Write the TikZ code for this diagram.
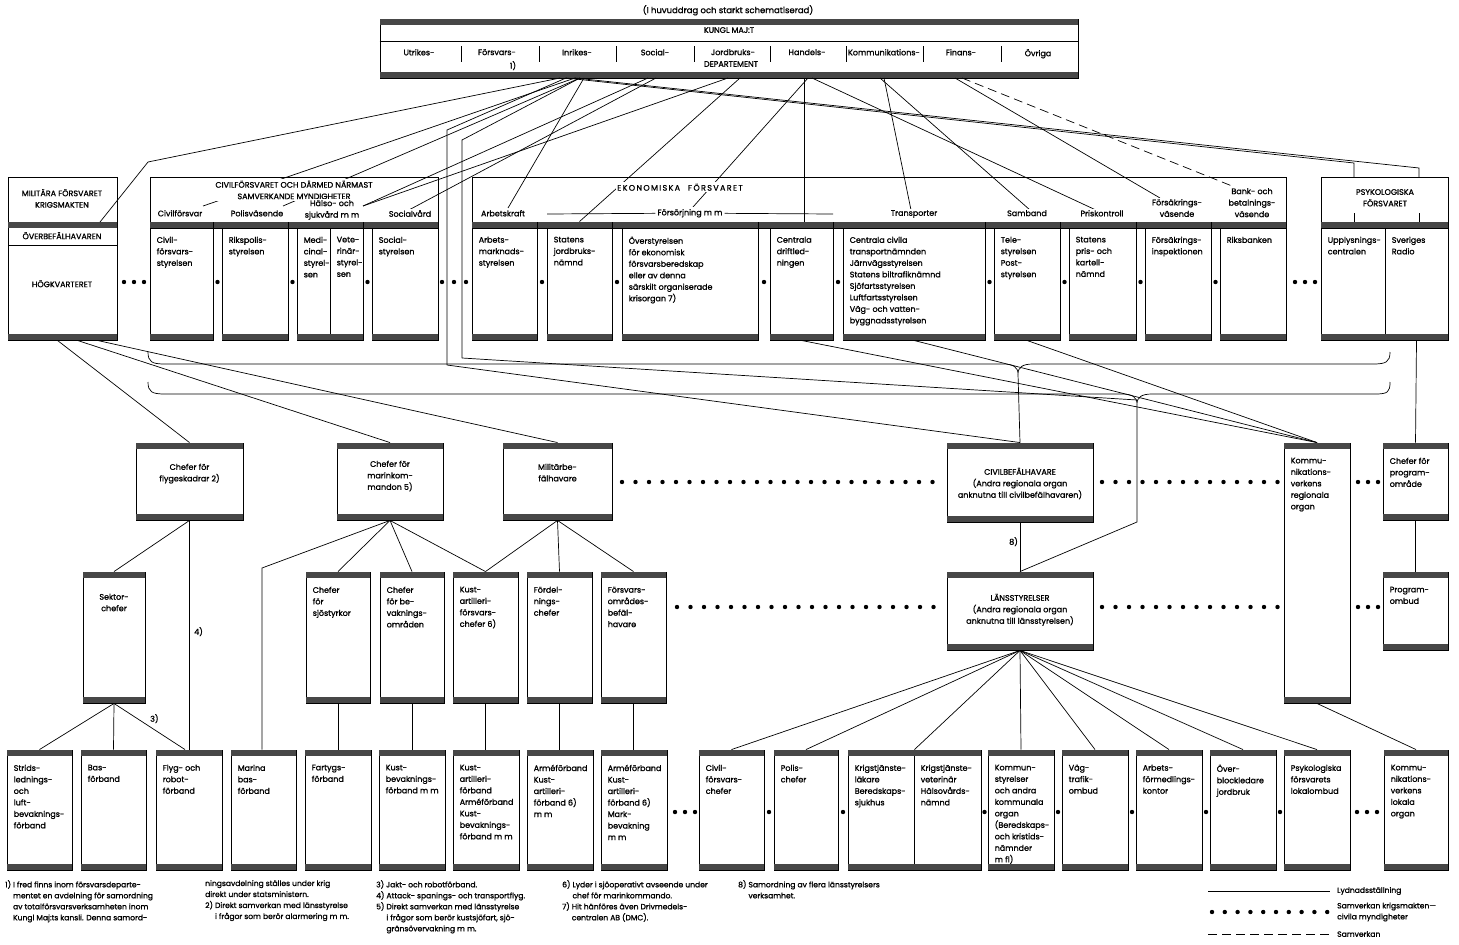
\documentclass[tikz,border=0pt]{standalone}
\usepackage{fontspec}
\setmainfont{Poppins}[FakeBold=1.2]
\usetikzlibrary{fit}
\begin{document}
\begin{tikzpicture}[x=1pt,y=-1pt]
\tikzset{
 band/.style={fill=black!72},
 t/.style={font=\fontsize{8}{11.5}\selectfont, align=left, inner sep=0, anchor=north west},
 tc/.style={t, align=center, anchor=north},
 ln/.style={line width=0.7pt},
 dotline/.style={line width=4.4pt, line cap=round, dash pattern=on 0pt off 13.5pt},
 foot/.style={font=\fontsize{7.6}{11}\selectfont, align=left, inner sep=0, anchor=north west},
}
\newcommand\mybox[6]{%
 \node[fit={(#2,#3) (#4,#5)}, inner sep=0, draw, line width=0.9pt] (#1) {};
 \fill[band] (#1.north west) rectangle ([yshift=-6pt]#1.north east);
 \fill[band] ([yshift=6pt]#1.south west) rectangle (#1.south east);
 \node[t] (#1-t) at ([xshift=7pt,yshift=-15pt]#1.north west) {#6};
}
\newcommand\myboxc[7]{%
 \node[fit={(#2,#3) (#4,#5)}, inner sep=0, draw, line width=0.9pt] (#1) {};
 \fill[band] (#1.north west) rectangle ([yshift=-6pt]#1.north east);
 \fill[band] ([yshift=6pt]#1.south west) rectangle (#1.south east);
 \node[tc] (#1-t) at ([yshift=-#6pt]#1.north) {#7};
}
\newcommand\gdot[2]{\fill (#1,#2) circle (2.2pt);}
\useasboundingbox (0,0) rectangle (1459,945);
\fill[white] (0,0) rectangle (1459,945);

% ---------- top ----------
\node[tc, font=\fontsize{8.5}{11}\selectfont] (title) at (728,5) {(I huvuddrag och starkt schematiserad)};
\node[fit={(380,19) (1078,78)}, inner sep=0, draw, line width=0.9pt] (km) {};
\fill[band] (km.north west) rectangle ([yshift=-6pt]km.north east);
\fill[band] ([yshift=6pt]km.south west) rectangle (km.south east);
\draw[line width=0.7pt] (km.west |- 0,41) -- (km.east |- 0,41);
\node[tc] (kmt) at (729,27) {KUNGL MAJ:T};
\foreach \x in {461,539,616,694,770,846,923,1001} \draw[line width=0.8pt] (\x,46) -- (\x,62);
\node[tc] (dUtr) at (419,49) {Utrikes-};
\node[tc] (dFor) at (497,49) {Försvars-};
\node[tc] (dFor1) at (513,61) {1)};
\node[tc] (dInr) at (577,49) {Inrikes-};
\node[tc] (dSoc) at (655,49) {Social-};
\node[tc] (dJor) at (733,49) {Jordbruks-};
\node[tc] (dDep) at (731,61) {DEPARTEMENT};
\node[tc] (dHan) at (807,49) {Handels-};
\node[tc] (dKom) at (884,49) {Kommunikations-};
\node[tc] (dFin) at (961,49) {Finans-};
\node[tc] (dOvr) at (1038,49) {Övriga};

% ---------- row 2 : militära ----------
\node[fit={(8,177) (117,340)}, inner sep=0, draw, line width=0.9pt] (mil) {};
\fill[band] (8,222) rectangle (117,228);
\fill[band] (8,334) rectangle (117,340);
\draw[line width=0.7pt] (8,245) -- (117,245);
\node[tc] (milt) at (62,189) {MILITÄRA FÖRSVARET\\KRIGSMAKTEN};
\node[tc] (obh) at (62,232) {ÖVERBEFÄLHAVAREN};
\node[tc] (hkv) at (62,280) {HÖGKVARTERET};

% ---------- civilförsvaret group ----------
\node[fit={(150,177) (438,228)}, inner sep=0, draw, line width=0.9pt] (civ) {};
\fill[band] (150,222) rectangle (438,228);
\mybox{cfs}{150}{222}{213}{340}{Civil-\\försvars-\\styrelsen}
\mybox{rps}{222}{222}{288}{340}{Rikspolis-\\styrelsen}
\mybox{med}{297}{222}{330}{340}{Medi-\\cinal-\\styrel-\\sen}
\mybox{vet}{330}{222}{363}{340}{Vete-\\rinär-\\styrel-\\sen}
\mybox{soc}{372}{222}{438}{340}{Social-\\styrelsen}
\gdot{217.5}{282}\gdot{292.5}{282}\gdot{367.5}{282}
\gdot{442}{282}\gdot{454}{282}\gdot{466}{282}
\gdot{124}{282}\gdot{134}{282}\gdot{144}{282}

% ---------- ekonomiska group ----------
\node[fit={(472,177) (1286,228)}, inner sep=0, draw, line width=0.9pt] (ek) {};
\fill[band] (472,222) rectangle (1286,228);
\mybox{ams}{472}{222}{537}{340}{Arbets-\\marknads-\\styrelsen}
\mybox{sjn}{547}{222}{612}{340}{Statens\\jordbruks-\\nämnd}
\mybox{oef}{622}{222}{758}{340}{Överstyrelsen\\för ekonomisk\\försvarsberedskap\\eller av denna\\särskilt organiserade\\krisorgan 7)}
\mybox{cdl}{770}{222}{833}{340}{Centrala\\driftled-\\ningen}
\mybox{tra}{843}{222}{985}{340}{Centrala civila\\transportnämnden\\Järnvägsstyrelsen\\Statens biltrafiknämnd\\Sjöfartsstyrelsen\\Luftfartsstyrelsen\\Väg- och vatten-\\byggnadsstyrelsen}
\mybox{sam}{994}{222}{1060}{340}{Tele-\\styrelsen\\Post-\\styrelsen}
\mybox{pri}{1069}{222}{1136}{340}{Statens\\pris- och\\kartell-\\nämnd}
\mybox{fsi}{1145}{222}{1211}{340}{Försäkrings-\\inspektionen}
\mybox{rb}{1220}{222}{1286}{340}{Riksbanken}
\gdot{542}{282}\gdot{617}{282}\gdot{764}{282}\gdot{838}{282}\gdot{989.5}{282}\gdot{1064.5}{282}\gdot{1140.5}{282}\gdot{1215.5}{282}
\gdot{1295}{282}\gdot{1305}{282}\gdot{1315}{282}

% ---------- psykologiska ----------
\node[fit={(1321,177) (1448,228)}, inner sep=0, draw, line width=0.9pt] (ps) {};
\fill[band] (1321,222) rectangle (1448,228);
\mybox{upc}{1321}{222}{1385}{340}{Upplysnings-\\centralen}
\mybox{sr}{1385}{222}{1448}{340}{Sveriges\\Radio}
\node[tc] (pst) at (1385,189) {PSYKOLOGISKA\\FÖRSVARET};
\draw[ln] (1354,213) -- (1354,222);
\draw[ln] (1419,213) -- (1419,222);

% ---------- connectors top -> row 2 ----------
\coordinate (pF1) at (560,78);
\coordinate (pF2) at (566,78);
\coordinate (pI1) at (575,78);
\coordinate (pI2) at (580,78);
\coordinate (pI3) at (584,78);
\coordinate (pS1) at (648,78);
\coordinate (pS2) at (656,78);
\coordinate (pJ1) at (740,78);
\coordinate (pJ2) at (728,78);
\coordinate (pH1) at (804,78);
\coordinate (pH2) at (808,78);
\coordinate (pH3) at (812,78);
\coordinate (pK1) at (884,78);
\coordinate (pK2) at (880,78);
\coordinate (pN1) at (955,78);
\coordinate (pN2) at (962,78);
\coordinate (aMil) at (100,222);
\coordinate (bMil) at (148,162);
\draw[ln] (pF1) -- (bMil) -- (aMil);
\coordinate (aCf) at (203,206);
\coordinate (aPv) at (283,206);
\coordinate (aHs) at (363,206);
\coordinate (aSv) at (407,211);
\draw[ln] (pI1) -- (aCf);
\draw[ln] (pI2) -- (aPv);
\draw[ln] (pS1) -- (aHs);
\draw[ln] (pJ2) -- (aHs);
\draw[ln] (pS2) -- (aSv);
\coordinate (aAk) at (508,208);
\draw[ln] (pI3) -- (aAk);
\draw[ln] (pJ1) -- (sjn.north);
\coordinate (aFs) at (693,207);
\draw[ln] (pH2) -- (aFs);
\draw[ln] (pH1) -- (pH1 |- cdl.north);
\coordinate (aPk) at (1098,211);
\draw[ln] (pH3) -- (aPk);
\coordinate (aTr) at (911,210);
\draw[ln] (pK1) -- (aTr);
\coordinate (aSb) at (1030,210);
\draw[ln] (pK2) -- (aSb);
\coordinate (aFk) at (1160,198);
\draw[ln] (pN1) -- (aFk);
\coordinate (aBk) at (1232,186);
\draw[ln, dash pattern=on 9pt off 5pt] (pN2) -- (aBk);
\coordinate (aPs1) at (1354,177);
\coordinate (aPs2) at (1419,177);
\draw[ln] (pF2) -- (1354,163) -- (aPs1);
\draw[ln] (pI1) -- (1419,168) -- (aPs2);
% long verticals to regional level
\coordinate (vA) at (447,130);
\coordinate (vA2) at (447,365);
\coordinate (vB) at (462,140);
\coordinate (vB2) at (462,358);
\coordinate (kB) at (1137,400);
\coordinate (kB2) at (1137,522);
\draw[ln] (pF2) -- (vA) -- (vA2);
\draw[ln] (pI2) -- (vB) -- (vB2);

% titles with white backgrounds (over lines)
\node[tc, fill=white, inner sep=1.5pt] (civt) at (294,179) {CIVILFÖRSVARET OCH DÄRMED NÄRMAST\\SAMVERKANDE MYNDIGHETER};
\node[tc, fill=white, inner sep=1.5pt, font=\fontsize{8}{11}\selectfont] (ekt) at (680,182) {E\,K\,O\,N\,O\,M\,I\,S\,K\,A\quad F\,Ö\,R\,S\,V\,A\,R\,E\,T};
\node[tc, fill=white, inner sep=1pt] (lCf) at (180,209) {Civilförsvar};
\node[tc, fill=white, inner sep=1pt] (lPv) at (257,209) {Polisväsende};
\node[tc, fill=white, inner sep=1pt] (lHs) at (332,199) {Hälso- och\\sjukvård m m};
\node[tc, fill=white, inner sep=1pt] (lSv) at (410,209) {Socialvård};
\node[tc, fill=white, inner sep=1pt] (lAk) at (503,209) {Arbetskraft};
\node[tc, fill=white, inner sep=2pt] (lFs) at (690,207) {Försörjning m m};
\draw[ln] (547,214) -- (lFs.west);
\draw[ln] (lFs.east) -- (833,214);
\node[tc, fill=white, inner sep=1pt] (lTr) at (914,209) {Transporter};
\node[tc, fill=white, inner sep=1pt] (lSb) at (1027,209) {Samband};
\node[tc, fill=white, inner sep=1pt] (lPk) at (1102,209) {Priskontroll};
\node[tc, fill=white, inner sep=1pt] (lFk) at (1177,198) {Försäkrings-\\väsende};
\node[tc, fill=white, inner sep=1pt] (lBk) at (1252,187) {Bank- och\\betalnings-\\väsende};

% ---------- row 3 ----------
\myboxc{cfl}{136}{443}{243}{520}{21}{Chefer för\\flygeskadrar 2)}
\myboxc{cmk}{337}{443}{443}{520}{18}{Chefer för\\marinkom-\\mandon 5)}
\myboxc{mbh}{503}{443}{612}{520}{21}{Militärbe-\\fälhavare}
\myboxc{cbh}{947}{443}{1093}{522}{25}{CIVILBEFÄLHAVARE\\(Andra regionala organ\\anknutna till civilbefälhavaren)}
\mybox{kvr}{1284}{443}{1350}{703}{Kommu-\\nikations-\\verkens\\regionala\\organ}
\mybox{cpo}{1383}{443}{1448}{520}{Chefer för\\program-\\område}
\draw[dotline] (622,482) -- (942,482);
\draw[dotline] (1102,482) -- (1280,482);
\gdot{1358}{482}\gdot{1368}{482}\gdot{1378}{482}

% ---------- row 4 ----------
\myboxc{sek}{83}{572}{145}{703}{22}{Sektor-\\chefer}
\mybox{cfs2}{306}{572}{370}{703}{Chefer\\för\\sjöstyrkor}
\mybox{cfb}{380}{572}{444}{703}{Chefer\\för be-\\vaknings-\\områden}
\mybox{kaf}{453}{572}{518}{703}{Kust-\\artilleri-\\försvars-\\chefer 6)}
\mybox{fdc}{527}{572}{592}{703}{Fördel-\\nings-\\chefer}
\mybox{fob}{601}{572}{666}{703}{Försvars-\\områdes-\\befäl-\\havare}
\myboxc{lst}{947}{572}{1093}{650}{22}{LÄNSSTYRELSER\\(Andra regionala organ\\anknutna till länsstyrelsen)}
\mybox{pom}{1383}{572}{1448}{650}{Program-\\ombud}
\draw[dotline] (677,607) -- (942,607);
\draw[dotline] (1102,607) -- (1280,607);
\gdot{1358}{607}\gdot{1368}{607}\gdot{1378}{607}

% ---------- row 5 ----------
\mybox{e1}{7}{750}{72}{870}{Strids-\\lednings-\\och\\luft-\\bevaknings-\\förband}
\mybox{e2}{81}{750}{146}{870}{Bas-\\förband}
\mybox{e3}{156}{750}{222}{870}{Flyg- och\\robot-\\förband}
\mybox{e4}{231}{750}{296}{870}{Marina\\bas-\\förband}
\mybox{e5}{305}{750}{371}{870}{Fartygs-\\förband}
\mybox{e6}{379}{750}{445}{870}{Kust-\\bevaknings-\\förband m m}
\mybox{e7}{453}{750}{519}{870}{Kust-\\artilleri-\\förband\\Arméförband\\Kust-\\bevaknings-\\förband m m}
\mybox{e8}{527}{750}{593}{870}{Arméförband\\Kust-\\artilleri-\\förband 6)\\m m}
\mybox{e9}{601}{750}{667}{870}{Arméförband\\Kust-\\artilleri-\\förband 6)\\Mark-\\bevakning\\m m}
\gdot{675}{812}\gdot{685}{812}\gdot{695}{812}
\mybox{f1}{699}{750}{764}{870}{Civil-\\försvars-\\chefer}
\mybox{f2}{774}{750}{838}{870}{Polis-\\chefer}
\mybox{f3}{848}{750}{914}{870}{Krigstjänste-\\läkare\\Beredskaps-\\sjukhus}
\mybox{f3b}{914}{750}{981}{870}{Krigstjänste-\\veterinär\\Hälsovårds-\\nämnd}
\mybox{f4}{988}{750}{1054}{870}{Kommun-\\styrelser\\och andra\\kommunala\\organ\\(Beredskaps-\\och kristids-\\nämnder\\m fl)}
\mybox{f5}{1062}{750}{1128}{870}{Väg-\\trafik-\\ombud}
\mybox{f6}{1136}{750}{1202}{870}{Arbets-\\förmedlings-\\kontor}
\mybox{f7}{1210}{750}{1276}{870}{Över-\\blockledare\\jordbruk}
\mybox{f8}{1284}{750}{1350}{870}{Psykologiska\\försvarets\\lokalombud}
\mybox{f9}{1384}{750}{1448}{870}{Kommu-\\nikations-\\verkens\\lokala\\organ}
\gdot{769}{812}\gdot{843}{812}\gdot{984.5}{812}\gdot{1058}{812}\gdot{1132}{812}\gdot{1206}{812}\gdot{1280}{812}
\gdot{1357}{812}\gdot{1367}{812}\gdot{1377}{812}

% ---------- middle connectors ----------
\draw[ln] ([xshift=-5pt]mil.south) -- (cfl.north);
\draw[ln] ([xshift=15pt]mil.south) -- (cmk.north);
\draw[ln] ([xshift=35pt]mil.south) -- (mbh.north);
% braces (under the central agencies)
\draw[ln] (148,352) .. controls (148,362) and (152,364) .. (165,364) -- (1003,364) .. controls (1013,364) and (1018,367) .. (1018,374) .. controls (1018,367) and (1023,364) .. (1033,364) -- (1373,364) .. controls (1386,364) and (1390,362) .. (1390,352);
\draw[ln] (148,382) .. controls (148,392) and (152,394) .. (165,394) -- (1122,394) .. controls (1132,394) and (1137,397) .. (1137,404) .. controls (1137,397) and (1142,394) .. (1152,394) -- (1375,394) .. controls (1388,394) and (1390,392) .. (1390,382);
\coordinate (tipU) at (1018,374);
\coordinate (tipL) at (1137,404);
\draw[ln] (tipU) -- (cbh.north);
\draw[ln] (vA2) -- (cbh.north);
\draw[ln] (tipL) -- (kB2) -- (lst.north);
\draw[ln] (vB2) -- (kB);
\draw[ln] (cdl.south) -- (kvr.north);
\draw[ln] (tra.south) -- (kvr.north);
\draw[ln] (sam.south) -- (kvr.north);
\draw[ln] (sr.south) -- (cpo.north);

% ---------- lower connectors ----------
\draw[ln] (cfl.south) -- (sek.north);
\draw[ln] (cfl.south) -- (cfl.south |- e3.north);
\node[t] (n4) at (194,627) {4)};
\draw[ln] (sek.south) -- (e1.north);
\draw[ln] (sek.south) -- (e2.north);
\draw[ln] (sek.south) -- ([xshift=-4pt]e3.north);
\node[t] (n3) at (150,714) {3)};
\coordinate (mbk) at (262,568);
\draw[ln] (cmk.south) -- (mbk) -- (mbk |- e4.north);
\draw[ln] (cmk.south) -- (cfs2.north);
\draw[ln] (cmk.south) -- (cfb.north);
\draw[ln] (cmk.south) -- (kaf.north);
\draw[ln] (mbh.south) -- (kaf.north);
\draw[ln] (mbh.south) -- (fdc.north);
\draw[ln] (mbh.south) -- (fob.north);
\draw[ln] (cfs2.south) -- (cfs2.south |- e5.north);
\draw[ln] (cfb.south) -- (cfb.south |- e6.north);
\draw[ln] (kaf.south) -- (kaf.south |- e7.north);
\draw[ln] (fdc.south) -- (fdc.south |- e8.north);
\draw[ln] (fob.south) -- (fob.south |- e9.north);
\draw[ln] (cbh.south) -- (lst.north);
\node[t] (n8) at (1009,537) {8)};
\draw[ln] (lst.south) -- (f1.north);
\draw[ln] (lst.south) -- (f2.north);
\draw[ln] (lst.south) -- (f3.north east);
\draw[ln] (lst.south) -- (f4.north);
\draw[ln] (lst.south) -- (f5.north);
\draw[ln] (lst.south) -- (f6.north);
\draw[ln] (lst.south) -- (f7.north);
\draw[ln] (lst.south) -- (f8.north);
\draw[ln] (kvr.south) -- (f9.north);
\draw[ln] (cpo.south) -- (pom.north);

% ---------- footnotes ----------
\node[foot] (fn1) at (5,880) {1)\ I fred finns inom försvarsdeparte-\\\phantom{1)\ }mentet en avdelning för samordning\\\phantom{1)\ }av totalförsvarsverksamheten inom\\\phantom{1)\ }Kungl Maj:ts kansli. Denna samord-};
\node[foot] (fn1b) at (205,880) {ningsavdelning ställes under krig\\direkt under statsministern.\\2)\ Direkt samverkan med länsstyrelse\\\phantom{2)\ }i frågor som berör alarmering m m.};
\node[foot] (fn3) at (376,880) {3)\ Jakt- och robotförband.\\4)\ Attack- spanings- och transportflyg.\\5)\ Direkt samverkan med länsstyrelse\\\phantom{5)\ }i frågor som berör kustsjöfart, sjö-\\\phantom{5)\ }gränsövervakning m m.};
\node[foot] (fn6) at (562,880) {6)\ Lyder i sjöoperativt avseende under\\\phantom{6)\ }chef för marinkommando.\\7)\ Hit hänföres även Drivmedels-\\\phantom{7)\ }centralen AB (DMC).};
\node[foot] (fn8) at (738,880) {8)\ Samordning av flera länsstyrelsers\\\phantom{8)\ }verksamhet.};

% ---------- legend ----------
\coordinate (lg1a) at (1208,891); \coordinate (lg1b) at (1330,891);
\draw[line width=1pt] (lg1a) -- (lg1b);
\node[foot, anchor=west] (lgt1) at (1337,891) {Lydnadsställning};
\coordinate (lg2a) at (1212,912); \coordinate (lg2b) at (1330,912);
\draw[line width=4.4pt, line cap=round, dash pattern=on 0pt off 12.8pt] (lg2a) -- (lg2b);
\node[foot, anchor=west] (lgt2) at (1337,912) {Samverkan krigsmakten—\\civila myndigheter};
\coordinate (lg3a) at (1208,934); \coordinate (lg3b) at (1330,934);
\draw[line width=1pt, dash pattern=on 9pt off 5pt] (lg3a) -- (lg3b);
\node[foot, anchor=west] (lgt3) at (1337,934) {Samverkan};
\end{tikzpicture}
\end{document}
